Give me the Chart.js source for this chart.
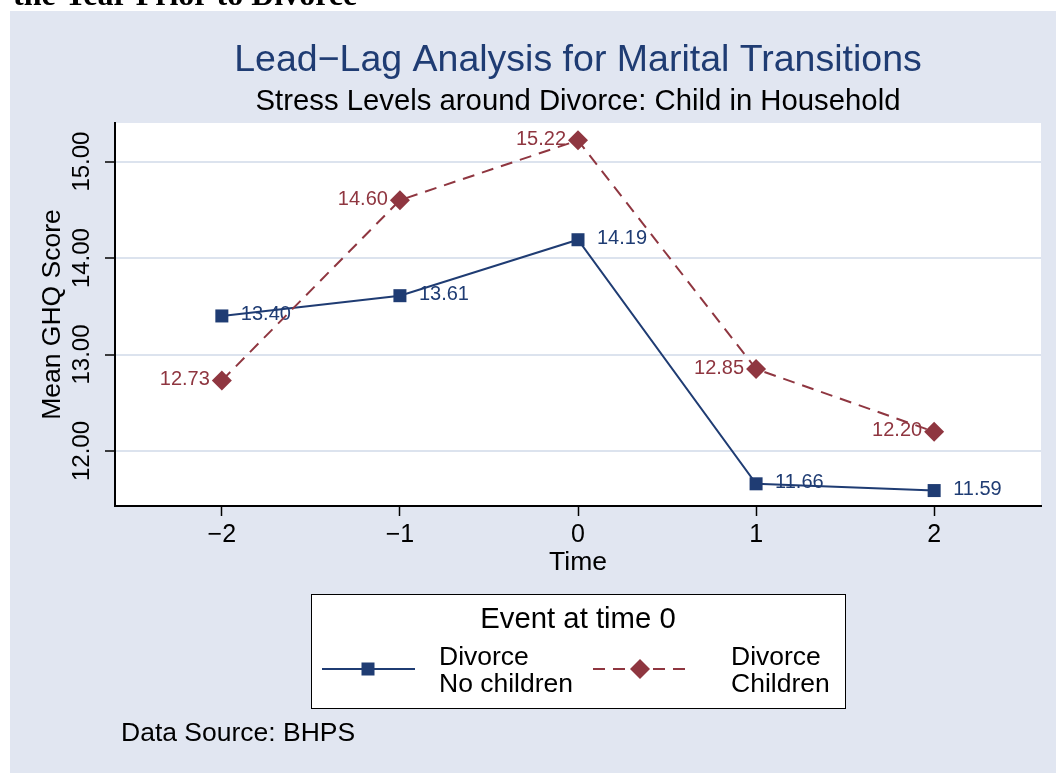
<!DOCTYPE html>
<html>
<head>
<meta charset="utf-8">
<script src="https://cdn.jsdelivr.net/npm/chart.js@4.4.1/dist/chart.umd.min.js"></script>
<style>
  body { margin: 0; background: #fff; }
  #wrap { width: 1056px; height: 773px; }
</style>
</head>
<body>
<div id="wrap"><canvas id="chart" width="1056" height="773"></canvas></div>
<script>
/* eslint-disable no-undef */

// Données
const times = [-2, -1, 0, 1, 2]
const noChildren = [13.40, 13.61, 14.19, 11.66, 11.59]
const withChildren = [12.73, 14.60, 15.22, 12.85, 12.20]
const xTicks = [-2, -1, 0, 1, 2]
const yTicks = [12, 13, 14, 15]

const NAVY = "#1f3c73"
const MAROON = "#8f3640"
const PANEL = "#e1e6f1"
const GRID = "#dce3ee"
const FONT = "'Liberation Sans', Arial, sans-serif"

function points(values) {
  return times.map((t, i) => ({ x: t, y: values[i] }))
}

function fmtTick(v) {
  return (v < 0 ? "\u2212" : "") + Math.abs(v)
}

// Fond : bande blanche en haut, cadre gris-bleu
const backgroundPlugin = {
  id: "background",
  beforeDraw(chart) {
    const ctx = chart.ctx
    ctx.save()
    ctx.fillStyle = "#fff"
    ctx.fillRect(0, 0, chart.width, chart.height)
    ctx.fillStyle = "#000"
    ctx.font = "bold 32px 'Liberation Serif', 'Times New Roman', serif"
    ctx.textBaseline = "alphabetic"
    ctx.fillText("the Year Prior to Divorce", 13, 5)
    ctx.fillStyle = PANEL
    ctx.fillRect(10, 11, chart.width - 10, chart.height - 11)
    const a = chart.chartArea
    ctx.fillStyle = "#fff"
    ctx.fillRect(a.left, a.top, a.right - a.left, a.bottom - a.top)
    ctx.restore()
  },
}

// Étiquettes des valeurs, dessinées après chaque série
const labelPlugin = {
  id: "valueLabels",
  afterDatasetDraw(chart, args) {
    const ctx = chart.ctx
    const ds = chart.data.datasets[args.index]
    ctx.save()
    ctx.font = "20px " + FONT
    ctx.fillStyle = ds.borderColor
    ctx.textBaseline = "middle"
    args.meta.data.forEach((pt, i) => {
      const txt = ds.data[i].y.toFixed(2)
      if (ds.labelSide === "right") {
        ctx.textAlign = "left"
        ctx.fillText(txt, pt.x + 19, pt.y - 1)
      } else {
        ctx.textAlign = "right"
        ctx.fillText(txt, pt.x - 12, pt.y - 1)
      }
    })
    ctx.restore()
  },
}

function drawSquare(ctx, x, y, s, color) {
  ctx.fillStyle = color
  ctx.fillRect(x - s / 2, y - s / 2, s, s)
}

function drawDiamond(ctx, x, y, r, color) {
  ctx.fillStyle = color
  ctx.beginPath()
  ctx.moveTo(x, y - r)
  ctx.lineTo(x + r, y)
  ctx.lineTo(x, y + r)
  ctx.lineTo(x - r, y)
  ctx.closePath()
  ctx.fill()
}

// Textes des axes, titres, légende et source
const textPlugin = {
  id: "texts",
  afterDraw(chart) {
    const ctx = chart.ctx
    const a = chart.chartArea
    const xs = chart.scales.x
    const ys = chart.scales.y
    const cx = (a.left + a.right) / 2
    ctx.save()

    ctx.fillStyle = NAVY
    ctx.textAlign = "center"
    ctx.textBaseline = "alphabetic"
    ctx.font = "37.5px " + FONT
    ctx.fillText("Lead\u2212Lag Analysis for Marital Transitions", cx, 71)
    ctx.fillStyle = "#000"
    ctx.font = "29.3px " + FONT
    ctx.fillText("Stress Levels around Divorce: Child in Household", cx, 110)

    // graduations x
    ctx.font = "25px " + FONT
    xTicks.forEach((v) => {
      ctx.fillText(fmtTick(v), xs.getPixelForValue(v), 542)
    })
    ctx.font = "26.5px " + FONT
    ctx.fillText("Time", cx, 570)

    // graduations y (verticales)
    yTicks.forEach((v) => {
      ctx.save()
      ctx.translate(82, ys.getPixelForValue(v))
      ctx.rotate(-Math.PI / 2)
      ctx.textBaseline = "middle"
      ctx.font = "24px " + FONT
      ctx.fillText(v.toFixed(2), 0, 0)
      ctx.restore()
    })
    ctx.save()
    ctx.translate(53, (a.top + a.bottom) / 2)
    ctx.rotate(-Math.PI / 2)
    ctx.textBaseline = "middle"
    ctx.font = "26.5px " + FONT
    ctx.fillText("Mean GHQ Score", 0, 0)
    ctx.restore()

    // légende
    ctx.fillStyle = "#fff"
    ctx.fillRect(311, 594, 534, 114)
    ctx.strokeStyle = "#000"
    ctx.lineWidth = 1
    ctx.strokeRect(311.5, 594.5, 534, 114)
    ctx.fillStyle = "#000"
    ctx.font = "29.3px " + FONT
    ctx.fillText("Event at time 0", 578, 628)

    ctx.lineWidth = 2
    ctx.strokeStyle = NAVY
    ctx.beginPath()
    ctx.moveTo(322, 669)
    ctx.lineTo(415, 669)
    ctx.stroke()
    drawSquare(ctx, 368, 669, 13, NAVY)

    ctx.strokeStyle = MAROON
    ctx.setLineDash([12, 8])
    ctx.beginPath()
    ctx.moveTo(593, 669)
    ctx.lineTo(687, 669)
    ctx.stroke()
    ctx.setLineDash([])
    drawDiamond(ctx, 640, 669, 10, MAROON)

    ctx.fillStyle = "#000"
    ctx.textAlign = "left"
    ctx.font = "26.5px " + FONT
    ctx.fillText("Divorce", 439, 665)
    ctx.fillText("No children", 439, 692)
    ctx.fillText("Divorce", 731, 665)
    ctx.fillText("Children", 731, 692)

    ctx.font = "26.5px " + FONT
    ctx.fillText("Data Source: BHPS", 121, 741)
    ctx.restore()
  },
}

const ctx = document.getElementById("chart").getContext("2d")

new Chart(ctx, {
  type: "line",
  data: {
    datasets: [
      {
        label: "Divorce No children",
        data: points(noChildren),
        borderColor: NAVY,
        backgroundColor: NAVY,
        borderWidth: 2,
        pointStyle: "rect",
        pointRadius: 9.2,
        pointBorderWidth: 0,
        pointBackgroundColor: NAVY,
        labelSide: "right",
        order: 2,
      },
      {
        label: "Divorce Children",
        data: points(withChildren),
        borderColor: MAROON,
        backgroundColor: MAROON,
        borderWidth: 2,
        borderDash: [12, 8],
        pointStyle: "rectRot",
        pointRadius: 10,
        pointBorderWidth: 0,
        pointBackgroundColor: MAROON,
        labelSide: "left",
        order: 1,
      },
    ],
  },
  options: {
    responsive: false,
    animation: false,
    events: [],
    layout: { padding: { top: 123, right: 15, left: 0, bottom: 0 } },
    plugins: {
      legend: { display: false },
      title: { display: false },
      tooltip: { enabled: false },
    },
    scales: {
      x: {
        type: "linear",
        min: -2.6,
        max: 2.6,
        afterBuildTicks: (s) => { s.ticks = xTicks.map((v) => ({ value: v })) },
        afterFit: (s) => { s.height = 773 - 506 },
        ticks: { display: false },
        grid: { drawOnChartArea: false, drawTicks: true, tickLength: 10, tickColor: "#000", tickWidth: 1.5 },
        border: { color: "#000", width: 2 },
      },
      y: {
        type: "linear",
        min: 11.43,
        max: 15.4,
        afterBuildTicks: (s) => { s.ticks = yTicks.map((v) => ({ value: v })) },
        afterFit: (s) => { s.width = 115 },
        ticks: { display: false },
        grid: { color: GRID, lineWidth: 2, drawTicks: true, tickLength: 10, tickColor: "#000", tickWidth: 1.5 },
        border: { color: "#000", width: 2 },
      },
    },
  },
  plugins: [backgroundPlugin, labelPlugin, textPlugin],
})
</script>
</body>
</html>
